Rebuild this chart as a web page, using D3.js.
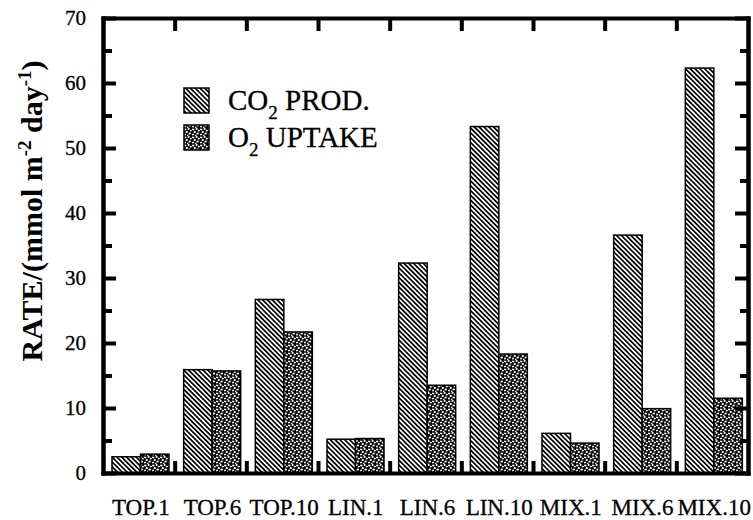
<!DOCTYPE html>
<html><head><meta charset="utf-8">
<script src="https://cdn.jsdelivr.net/npm/d3@7"></script>
<style>body{margin:0;background:#fff}svg{display:block}text{font-family:"Liberation Serif","Times New Roman",serif;fill:#000}</style>
</head><body><svg id="c" width="753" height="520"></svg>
<script>
const categories = ["TOP.1","TOP.6","TOP.10","LIN.1","LIN.6","LIN.10","MIX.1","MIX.6","MIX.10"];
const seriesNames = ["CO2 PROD.","O2 UPTAKE"];
const co2Prod = [2.5,15.9,26.7,5.2,32.3,53.3,6.1,36.6,62.3];
const o2Uptake = [2.9,15.7,21.7,5.3,13.5,18.3,4.6,9.9,11.5];
const yMajorTicks = [0,10,20,30,40,50,60,70];
const yMinorTicks = [5,15,25,35,45,55,65];

const svg = d3.select("#c");
const L=103, R=748, T=18, B=473;
const x = d3.scaleBand().domain(categories).range([L,R]).padding(0);
const xIn = d3.scaleBand().domain(seriesNames).range([9, 9+57]).padding(0);
const y = d3.scaleLinear().domain([0,70]).range([B,T]);
const xb = d3.scaleLinear().domain([0,categories.length]).range([L,R]);

const defs = svg.append("defs");
const hatch = defs.append("pattern").attr("id","hatch").attr("patternUnits","userSpaceOnUse")
  .attr("width",3.4).attr("height",3.4).attr("patternTransform","rotate(-45)");
hatch.append("rect").attr("width",3.4).attr("height",3.4).attr("fill","#fff");
hatch.append("rect").attr("width",1.7).attr("height",3.4).attr("fill","#000");

const dots = defs.append("pattern").attr("id","dots").attr("patternUnits","userSpaceOnUse")
  .attr("width",8).attr("height",8);
dots.append("rect").attr("width",8).attr("height",8).attr("fill","#000");
[[1.2,1.5,1.3,0.9],[4.6,0.9,1.0,1.0],[6.8,2.6,1.1,0.9],[2.8,4.0,1.2,0.9],[5.8,5.6,1.3,1.0],[1.0,6.6,1.0,1.0],[3.8,7.2,0.9,0.7]]
  .forEach(p=>dots.append("ellipse").attr("cx",p[0]).attr("cy",p[1]).attr("rx",p[2]).attr("ry",p[3]).attr("fill","#fff"));

const fills = {"CO2 PROD.":"url(#hatch)","O2 UPTAKE":"url(#dots)"};
const seriesData = [co2Prod, o2Uptake];

categories.forEach((c,i)=>{
  seriesNames.forEach((s,j)=>{
    const v = seriesData[j][i];
    svg.append("rect")
      .attr("x", x(c)+xIn(s)).attr("y", y(v))
      .attr("width", xIn.bandwidth()).attr("height", y(0)-y(v))
      .style("fill", fills[s]).style("stroke","#000").style("stroke-width","1.5px");
  });
});

function styleAxis(g){
  g.selectAll("path.domain").style("stroke","#000").style("stroke-width","4px").style("stroke-linecap","square");
  g.selectAll(".tick line").style("stroke","#000").style("stroke-width","4px");
  g.selectAll(".tick text").remove();
}
svg.append("g").attr("transform",`translate(${L},0)`)
  .call(d3.axisRight(y).tickValues(yMajorTicks).tickSize(13).tickSizeOuter(0)).call(styleAxis);
svg.append("g").attr("transform",`translate(${L},0)`)
  .call(d3.axisRight(y).tickValues(yMinorTicks).tickSize(9).tickSizeOuter(0)).call(styleAxis);
svg.append("g").attr("transform",`translate(${R},0)`)
  .call(d3.axisLeft(y).tickValues(yMajorTicks).tickSize(13).tickSizeOuter(0)).call(styleAxis);
svg.append("g").attr("transform",`translate(${R},0)`)
  .call(d3.axisLeft(y).tickValues(yMinorTicks).tickSize(8).tickSizeOuter(0)).call(styleAxis);
const bounds = d3.range(1, categories.length);
svg.append("g").attr("transform",`translate(0,${B})`)
  .call(d3.axisTop(xb).tickValues(bounds).tickSize(12).tickSizeOuter(0)).call(styleAxis);
svg.append("g").attr("transform",`translate(0,${T})`)
  .call(d3.axisBottom(xb).tickValues(bounds).tickSize(13).tickSizeOuter(0)).call(styleAxis);

yMajorTicks.forEach(v=>{
  svg.append("text").attr("x",86).attr("y",y(v)+7).attr("text-anchor","end")
    .attr("font-size",21).style("stroke","#000").style("stroke-width","0.3px").text(v);
});
categories.forEach(c=>{
  svg.append("text").attr("x",x(c)+x.bandwidth()/2+2).attr("y",515).attr("text-anchor","middle")
    .attr("font-size",23).style("stroke","#000").style("stroke-width","0.3px").text(c);
});

const yt = svg.append("text").attr("transform","translate(42,211) rotate(-90)")
  .attr("text-anchor","middle").attr("font-size",30).attr("font-weight","bold");
yt.append("tspan").text("RATE/(mmol m");
yt.append("tspan").attr("dy",-11).attr("font-size",19).text("-2");
yt.append("tspan").attr("dy",11).text(" day");
yt.append("tspan").attr("dy",-11).attr("font-size",19).text("-1");
yt.append("tspan").attr("dy",11).text(")");

const leg = [{s:"CO2 PROD.", y:88, t:["CO","2"," PROD."]},{s:"O2 UPTAKE", y:125, t:["O","2"," UPTAKE"]}];
leg.forEach(d=>{
  svg.append("rect").attr("x",184).attr("y",d.y).attr("width",25).attr("height",25)
    .style("fill",fills[d.s]).style("stroke","#000").style("stroke-width","1.5px");
  const t = svg.append("text").attr("x",228).attr("y",d.y+22).attr("font-size",29)
    .style("stroke","#000").style("stroke-width","0.3px");
  t.append("tspan").text(d.t[0]);
  t.append("tspan").attr("dy",9).attr("font-size",19).text(d.t[1]);
  t.append("tspan").attr("dy",-9).text(d.t[2]);
});
</script></body></html>
